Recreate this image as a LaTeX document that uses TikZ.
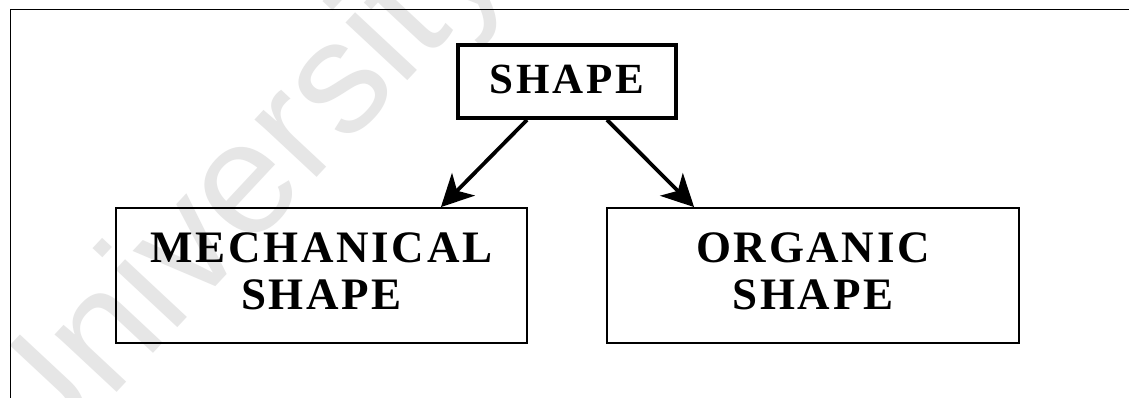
\documentclass[tikz,border=0pt]{standalone}
\usepackage{fontspec}
\setmainfont{Liberation Serif}
\newfontfamily\wmfont{Liberation Sans}
\usetikzlibrary{arrows.meta,calc}
\definecolor{wmgray}{HTML}{E6E6E6}
\tikzset{
  thinbox/.style={draw, line width=1.8pt, inner sep=0pt, text depth=8pt, align=center,
    font=\fontsize{45}{47}\selectfont\bfseries\addfontfeatures{LetterSpace=6}},
  thickbox/.style={draw, line width=3.8pt, inner sep=0pt, text depth=4pt,
    font=\fontsize{43}{45}\selectfont\bfseries\addfontfeatures{LetterSpace=7}},
  arr/.style={line width=3.8pt, -{Stealth[length=32pt,width=32pt,inset=9pt]}}
}
\begin{document}
\begin{tikzpicture}[x=1pt,y=-1pt]
\useasboundingbox (0,0) rectangle (1129,398);
\fill[white] (0,0) rectangle (1129,398);
% watermark
\node[wmgray, rotate=47, font=\fontsize{160}{160}\selectfont\wmfont] (wm) at (240,200) {University};
% frame
\draw[line width=1.6pt] (10.5,398) -- (10.5,9.5) -- (1129,9.5);
% boxes
\node[thickbox, minimum width=218pt, minimum height=73pt] (shape) at (567,81.5) {SHAPE};
\node[thinbox, minimum width=411pt, minimum height=135pt] (mech) at (321.5,275.5) {MECHANICAL\\SHAPE};
\node[thinbox, minimum width=412pt, minimum height=135pt] (org) at (813,275.5) {ORGANIC\\SHAPE};
% arrows
\draw[arr] ($(shape.south)+(-40,0)$) -- ($(mech.north east)+(-87,0)$);
\draw[arr] ($(shape.south)+(40,0)$) -- ($(org.north west)+(88,0)$);
\end{tikzpicture}
\end{document}
